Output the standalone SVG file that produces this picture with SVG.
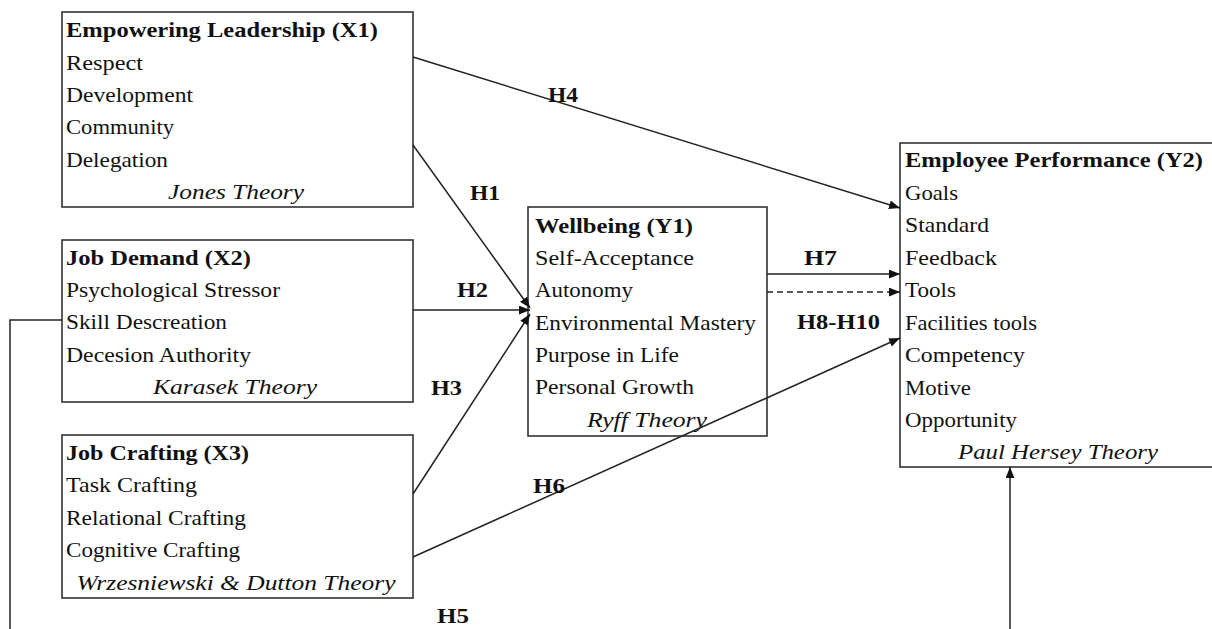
<svg xmlns="http://www.w3.org/2000/svg" width="1212" height="629" viewBox="0 0 1212 629">
<style>
.box{fill:#fff;stroke:#333;stroke-width:1.6}
text{font-family:"Liberation Serif","Times New Roman",serif;font-size:22px;fill:#111}
.t{font-weight:bold}
.i{font-style:italic}
.c{text-anchor:middle}
.lbl{font-weight:bold}
.ln{fill:none;stroke:#222;stroke-width:1.5}
.dash{stroke-dasharray:6 4}
</style>
<defs>
<marker id="ah" viewBox="0 0 10 8" refX="10" refY="4" markerWidth="11" markerHeight="9" markerUnits="userSpaceOnUse" orient="auto">
<path d="M0,0 L10,4 L0,8 Z" fill="#111"/>
</marker>
</defs>
<rect width="1212" height="629" fill="#fff"/>

<g id="x1">
<rect class="box" x="62" y="12" width="351" height="195"/>
<text class="t" x="66" y="37" textLength="312" lengthAdjust="spacingAndGlyphs">Empowering Leadership (X1)</text>
<text x="66" y="70" textLength="77" lengthAdjust="spacingAndGlyphs">Respect</text>
<text x="66" y="102" textLength="127" lengthAdjust="spacingAndGlyphs">Development</text>
<text x="66" y="134" textLength="108" lengthAdjust="spacingAndGlyphs">Community</text>
<text x="66" y="167" textLength="102" lengthAdjust="spacingAndGlyphs">Delegation</text>
<text class="i c" x="236" y="199" textLength="136" lengthAdjust="spacingAndGlyphs">Jones Theory</text>
</g>

<g id="x2">
<rect class="box" x="62" y="240" width="351" height="162"/>
<text class="t" x="66" y="265" textLength="185" lengthAdjust="spacingAndGlyphs">Job Demand (X2)</text>
<text x="66" y="297" textLength="214" lengthAdjust="spacingAndGlyphs">Psychological Stressor</text>
<text x="66" y="329" textLength="161" lengthAdjust="spacingAndGlyphs">Skill Descreation</text>
<text x="66" y="362" textLength="185" lengthAdjust="spacingAndGlyphs">Decesion Authority</text>
<text class="i c" x="235" y="394" textLength="164" lengthAdjust="spacingAndGlyphs">Karasek Theory</text>
</g>

<g id="x3">
<rect class="box" x="62" y="435" width="351" height="163"/>
<text class="t" x="66" y="460" textLength="183" lengthAdjust="spacingAndGlyphs">Job Crafting (X3)</text>
<text x="66" y="492" textLength="131" lengthAdjust="spacingAndGlyphs">Task Crafting</text>
<text x="66" y="525" textLength="180" lengthAdjust="spacingAndGlyphs">Relational Crafting</text>
<text x="66" y="557" textLength="174" lengthAdjust="spacingAndGlyphs">Cognitive Crafting</text>
<text class="i c" x="236" y="590" textLength="319" lengthAdjust="spacingAndGlyphs">Wrzesniewski &amp; Dutton Theory</text>
</g>

<g id="y1">
<rect class="box" x="528" y="207" width="239" height="229"/>
<text class="t" x="535" y="233" textLength="158" lengthAdjust="spacingAndGlyphs">Wellbeing (Y1)</text>
<text x="535" y="265" textLength="159" lengthAdjust="spacingAndGlyphs">Self-Acceptance</text>
<text x="535" y="297" textLength="98" lengthAdjust="spacingAndGlyphs">Autonomy</text>
<text x="535" y="330" textLength="221" lengthAdjust="spacingAndGlyphs">Environmental Mastery</text>
<text x="535" y="362" textLength="144" lengthAdjust="spacingAndGlyphs">Purpose in Life</text>
<text x="535" y="394" textLength="159" lengthAdjust="spacingAndGlyphs">Personal Growth</text>
<text class="i c" x="647" y="427" textLength="120" lengthAdjust="spacingAndGlyphs">Ryff Theory</text>
</g>

<g id="y2">
<rect class="box" x="900" y="143" width="316" height="324"/>
<text class="t" x="905" y="167" textLength="298" lengthAdjust="spacingAndGlyphs">Employee Performance (Y2)</text>
<text x="905" y="200" textLength="53" lengthAdjust="spacingAndGlyphs">Goals</text>
<text x="905" y="232" textLength="84" lengthAdjust="spacingAndGlyphs">Standard</text>
<text x="905" y="265" textLength="92" lengthAdjust="spacingAndGlyphs">Feedback</text>
<text x="905" y="297" textLength="51" lengthAdjust="spacingAndGlyphs">Tools</text>
<text x="905" y="330" textLength="132" lengthAdjust="spacingAndGlyphs">Facilities tools</text>
<text x="905" y="362" textLength="120" lengthAdjust="spacingAndGlyphs">Competency</text>
<text x="905" y="395" textLength="66" lengthAdjust="spacingAndGlyphs">Motive</text>
<text x="905" y="427" textLength="112" lengthAdjust="spacingAndGlyphs">Opportunity</text>
<text class="i c" x="1058" y="459" textLength="200" lengthAdjust="spacingAndGlyphs">Paul Hersey Theory</text>
</g>

<g id="connectors">
<line class="ln" x1="413" y1="57" x2="900" y2="208" marker-end="url(#ah)"/>
<line class="ln" x1="413" y1="145" x2="530" y2="308" marker-end="url(#ah)"/>
<line class="ln" x1="413" y1="310" x2="530" y2="310" marker-end="url(#ah)"/>
<line class="ln" x1="413" y1="494" x2="530" y2="314" marker-end="url(#ah)"/>
<line class="ln" x1="413" y1="557" x2="900" y2="338" marker-end="url(#ah)"/>
<line class="ln" x1="767" y1="274" x2="900" y2="274" marker-end="url(#ah)"/>
<line class="ln dash" x1="767" y1="292" x2="900" y2="292" marker-end="url(#ah)"/>
<polyline class="ln" points="62,320 10,320 10,640 1010,640 1010,467" marker-end="url(#ah)"/>
<text class="lbl" x="548" y="102" textLength="30" lengthAdjust="spacingAndGlyphs">H4</text>
<text class="lbl" x="470" y="200" textLength="30" lengthAdjust="spacingAndGlyphs">H1</text>
<text class="lbl" x="457" y="297" textLength="31" lengthAdjust="spacingAndGlyphs">H2</text>
<text class="lbl" x="431" y="395" textLength="31" lengthAdjust="spacingAndGlyphs">H3</text>
<text class="lbl" x="533" y="493" textLength="32" lengthAdjust="spacingAndGlyphs">H6</text>
<text class="lbl" x="437" y="623" textLength="32" lengthAdjust="spacingAndGlyphs">H5</text>
<text class="lbl" x="804" y="265" textLength="33" lengthAdjust="spacingAndGlyphs">H7</text>
<text class="lbl" x="797" y="329" textLength="83" lengthAdjust="spacingAndGlyphs">H8-H10</text>
</g>
</svg>
